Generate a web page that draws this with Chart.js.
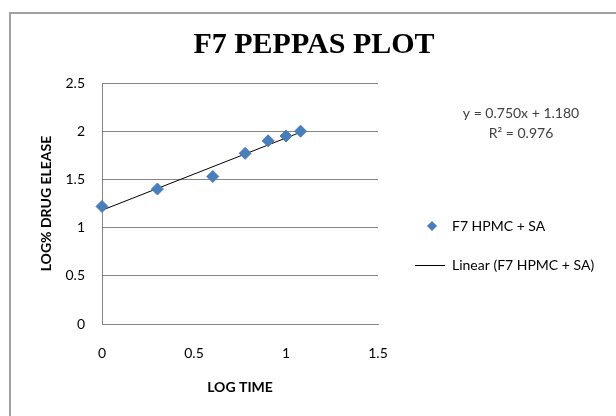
<!DOCTYPE html>
<html lang="en">
<head>
    <meta charset="UTF-8">
    <title>F7 Peppas Plot</title>
    <script src="https://cdn.jsdelivr.net/npm/chart.js"></script>
    <style>
        html, body { margin: 0; padding: 0; background: #fff; }
        .chart-container { position: relative; width: 616px; height: 416px; }
    </style>
</head>
<body>
    <div class="chart-container">
        <canvas id="peppasChart" width="616" height="416"></canvas>
    </div>

    <script>
        // log time vs log % drug release
        const logTime = [0, 0.301, 0.602, 0.778, 0.903, 1.0, 1.079];
        const logRelease = [1.22, 1.40, 1.53, 1.77, 1.90, 1.95, 2.00];
        const yTicks = [0, 0.5, 1, 1.5, 2, 2.5];
        const xTicks = [0, 0.5, 1, 1.5];
        const slope = 0.750;
        const intercept = 1.180;
        const rSquared = 0.976;
        const seriesName = 'F7 HPMC + SA';

        const points = logTime.map((x, i) => ({ x: x, y: logRelease[i] }));
        const xFirst = logTime[0];
        const xLast = logTime[logTime.length - 1];
        const trend = [
            { x: xFirst, y: slope * xFirst + intercept },
            { x: xLast, y: slope * xLast + intercept },
        ];

        const blue = '#4a7ebb';
        const gridGray = '#868686';
        const sans = 'Lato, "Liberation Sans", sans-serif';

        // chart frame, title, equation and legend drawn like Excel does
        const excelBits = {
            id: 'excelBits',
            beforeDraw(chart) {
                const ctx = chart.ctx;
                ctx.save();
                ctx.strokeStyle = '#a0a0a0';
                ctx.lineWidth = 2;
                ctx.beginPath();
                ctx.moveTo(10, 416);
                ctx.lineTo(10, 13);
                ctx.lineTo(616, 13);
                ctx.stroke();
                ctx.restore();
            },
            afterDraw(chart) {
                const ctx = chart.ctx;
                ctx.save();
                ctx.fillStyle = '#000';
                ctx.font = 'bold 30px "Liberation Serif", serif';
                ctx.textAlign = 'center';
                ctx.textBaseline = 'middle';
                ctx.fillText('F7 PEPPAS PLOT', 314, 45);

                ctx.fillStyle = '#404040';
                ctx.font = '14px ' + sans;
                ctx.fillText('y = ' + slope.toFixed(3) + 'x + ' + intercept.toFixed(3), 521, 113);
                ctx.fillText('R² = ' + rSquared.toFixed(3), 521, 133);

                // legend
                ctx.fillStyle = blue;
                ctx.beginPath();
                ctx.moveTo(432, 221);
                ctx.lineTo(437, 226);
                ctx.lineTo(432, 231);
                ctx.lineTo(427, 226);
                ctx.closePath();
                ctx.fill();
                ctx.strokeStyle = '#000';
                ctx.lineWidth = 1;
                ctx.beginPath();
                ctx.moveTo(415, 265.5);
                ctx.lineTo(445, 265.5);
                ctx.stroke();
                ctx.fillStyle = '#000';
                ctx.textAlign = 'left';
                ctx.fillText(seriesName, 452, 226);
                ctx.fillText('Linear (' + seriesName + ')', 452, 265);
                ctx.restore();
            }
        };

        new Chart(document.getElementById('peppasChart'), {
            type: 'scatter',
            data: {
                datasets: [
                    {
                        label: seriesName,
                        data: points,
                        backgroundColor: blue,
                        borderColor: blue,
                        pointStyle: 'rectRot',
                        pointRadius: 6,
                        pointHoverRadius: 6,
                        clip: false,
                    },
                    {
                        label: 'Linear (' + seriesName + ')',
                        data: trend,
                        type: 'line',
                        borderColor: '#000',
                        borderWidth: 1,
                        pointRadius: 0,
                        fill: false,
                    },
                ],
            },
            options: {
                responsive: false,
                animation: false,
                layout: { padding: { left: 10, top: 83, right: 238, bottom: 0 } },
                plugins: {
                    legend: { display: false },
                    title: { display: false },
                    tooltip: { enabled: false },
                },
                scales: {
                    x: {
                        type: 'linear',
                        min: 0,
                        max: 1.5,
                        afterFit(scale) { scale.height = 92; },
                        afterBuildTicks(scale) { scale.ticks = xTicks.map(v => ({ value: v })); },
                        grid: { display: false, drawTicks: false },
                        border: { color: gridGray, width: 1 },
                        ticks: {
                            padding: 21,
                            color: '#000',
                            font: { family: sans, size: 14 },
                            callback: (v) => String(v),
                        },
                        title: {
                            display: true,
                            text: 'LOG TIME',
                            color: '#000',
                            font: { family: sans, size: 14, weight: 'bold' },
                            padding: { top: 0, bottom: 20 },
                        },
                    },
                    y: {
                        type: 'linear',
                        min: 0,
                        max: 2.5,
                        afterFit(scale) { scale.width = 92; },
                        afterBuildTicks(scale) { scale.ticks = yTicks.map(v => ({ value: v })); },
                        grid: { color: gridGray, drawTicks: false },
                        border: { color: gridGray, width: 1 },
                        ticks: {
                            padding: 17,
                            color: '#000',
                            font: { family: sans, size: 14 },
                            callback: (v) => String(v),
                        },
                        title: {
                            display: true,
                            text: 'LOG% DRUG ELEASE',
                            color: '#000',
                            font: { family: sans, size: 14, weight: 'bold' },
                            padding: { top: 28, bottom: 0 },
                        },
                    },
                },
            },
            plugins: [excelBits],
        });
    </script>
</body>
</html>
